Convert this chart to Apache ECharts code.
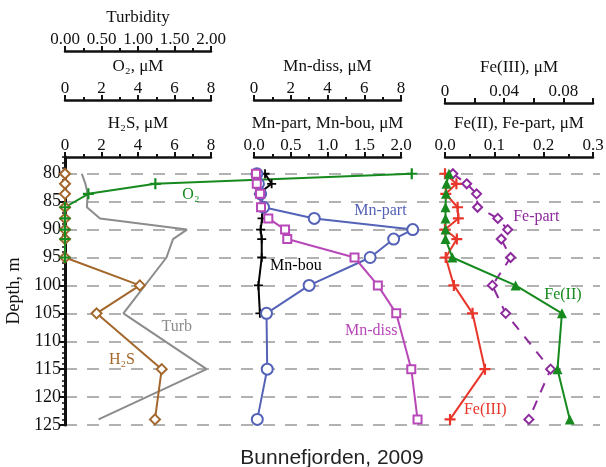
<!DOCTYPE html>
<html>
<head>
<meta charset="utf-8">
<script src="https://cdn.jsdelivr.net/npm/echarts@6/dist/echarts.min.js"></script>
<style>
  html, body { margin: 0; padding: 0; background: #fff; }
  #chart { width: 606px; height: 467px; }
</style>
</head>
<body>
<div id="chart"></div>
<script>
// Sampling depths (m) shared by most profiles
const depth = [80, 81.8, 83.6, 86, 88, 90, 91.7, 95, 100, 105, 115, 124];

// Left panel: O2, H2S (µM) and turbidity
const o2Depth = [80, 81.8, 83.6, 86, 88, 90, 91.7, 95];
const o2 = [19.0, 4.95, 1.28, 0, 0, 0, 0, 0];
const h2s = [0, 0, 0, 0, 0, 0, 0, 0, 4.1, 1.73, 5.3, 4.93];
const turbDepth = [80, 81.8, 83.6, 86, 88, 90, 91.7, 95, 105, 115, 124];
const turbidity = [0.23, 0.28, 0.31, 0.30, 0.48, 1.67, 1.48, 1.39, 0.80, 1.94, 0.46];

// Middle panel: manganese species (µM)
const mnPart = [0.04, 0.06, 0.09, 0.13, 0.82, 2.16, 1.90, 1.58, 0.75, 0.17, 0.18, 0.045];
const mnDiss = [0.11, 0.15, 0.33, 0.38, 0.78, 1.69, 1.81, 5.47, 6.74, 7.74, 8.56, 8.90];
const mnBouDepth = [80, 81.8, 83.6, 86, 88, 90, 91.7, 95, 100, 105];
const mnBou = [0.15, 0.24, 0.06, 0.12, 0.11, 0.09, 0.105, 0.105, 0.06, 0.08];

// Right panel: iron species (µM)
const fe2 = [0.008, 0.003, 0.002, 0.001, 0.001, 0.001, 0.001, 0.015, 0.143, 0.237, 0.228, 0.253];
const fe3 = [0, 0.0077, 0.0005, 0.0085, 0.009, 0, 0.008, 0.0005, 0.006, 0.0186, 0.027, 0.0034];
const fePart = [0.016, 0.044, 0.064, 0.066, 0.107, 0.127, 0.114, 0.133, 0.096, 0.123, 0.214, 0.17];

// Depth axis ticks
const depthTicks = [80, 85, 90, 95, 100, 105, 110, 115, 120, 125];
const depthMinorTicks = [];
for (let d = 77; d <= 125; d++) depthMinorTicks.push(d);

const SERIF = '"Liberation Serif", "DejaVu Serif", "Times New Roman", serif';
const INK = '#111';
const PLUS = 'path://M4,0h2v4h4v2h-4v4h-2v-4h-4v-2h4z';

const DEPTH_MIN = 77, DEPTH_MAX = 125;
const GRID_TOP = 157, GRID_BOTTOM = 42;

// Panel geometry (px). Profiles that run past a panel's scale are drawn on
// wider, hidden axes that keep the same units-per-pixel as the visible scale.
const CHART_W = 606, RIGHT_PAD = 6;
const LEFT_X = 65, LEFT_W = 146;
const MID_X = 254, MID_W = 147;
const RIGHT_X = 445, RIGHT_W = 148;
const WIDE_LEFT_W = CHART_W - RIGHT_PAD - LEFT_X;
const WIDE_MID_W = CHART_W - RIGHT_PAD - MID_X;

function pairs(xs, ds) { return xs.map((v, i) => [v, ds[i]]); }

function topAxis(gridIndex, offset, min, max, interval, name, gap, fmt, minorSplit) {
  return {
    type: 'value', gridIndex, position: 'top', offset, min, max, interval,
    name, nameLocation: 'middle', nameGap: gap,
    nameTextStyle: { fontFamily: SERIF, fontSize: 17, color: INK },
    axisLine: { show: true, onZero: false, lineStyle: { color: INK, width: 2.5 } },
    axisTick: { show: true, inside: false, length: 5, lineStyle: { color: INK, width: 2 } },
    minorTick: { show: !!minorSplit, splitNumber: minorSplit || 2, length: 3,
                 lineStyle: { color: INK, width: 2 } },
    axisLabel: { show: true, margin: 3, fontFamily: SERIF, fontSize: 17, color: INK,
                 formatter: fmt },
    splitLine: { show: false }, minorSplitLine: { show: false }
  };
}

function hiddenAxis(gridIndex, max) {
  return { type: 'value', gridIndex, min: 0, max, show: false, splitLine: { show: false } };
}

function hiddenDepthAxis(gridIndex) {
  return { type: 'value', gridIndex, inverse: true, min: DEPTH_MIN, max: DEPTH_MAX, show: false,
           splitLine: { show: false } };
}

function tag(text, coord, color) {
  return {
    symbol: 'circle', symbolSize: 1, itemStyle: { color: 'rgba(0,0,0,0)' },
    label: { show: true, position: 'inside', fontFamily: SERIF, fontSize: 16, color },
    data: [{ coord, value: text, label: { formatter: text } }]
  };
}

const gridBase = { top: GRID_TOP, bottom: GRID_BOTTOM, outerBoundsMode: 'none', containLabel: false };

const option = {
  animation: false,
  backgroundColor: '#fff',
  title: {
    text: 'Bunnefjorden, 2009', left: 327, top: 443, textAlign: 'center',
    textStyle: { fontFamily: '"Liberation Sans", Arial, sans-serif', fontSize: 21,
                 fontWeight: 'normal', color: '#222' }
  },
  grid: [
    Object.assign({ left: LEFT_X, right: RIGHT_PAD }, gridBase),  // 0: depth axis, grid lines, O2
    Object.assign({ left: LEFT_X, width: LEFT_W }, gridBase),     // 1: O2 / H2S / turbidity scales
    Object.assign({ left: MID_X, width: MID_W }, gridBase),       // 2: manganese scales
    Object.assign({ left: RIGHT_X, width: RIGHT_W }, gridBase),   // 3: iron
    Object.assign({ left: MID_X, right: RIGHT_PAD }, gridBase)    // 4: manganese profiles
  ],
  xAxis: [
    hiddenAxis(0, 8 * WIDE_LEFT_W / LEFT_W),                                  // 0: O2 profile
    topAxis(1, 0, 0, 8, 2, 'H₂S, μM', 24, v => String(v), 2),                 // 1
    topAxis(1, 57, 0, 8, 2, 'O₂, μM', 23, v => String(v), 2),                 // 2
    topAxis(1, 106, 0, 2, 0.5, 'Turbidity', 24, v => v.toFixed(2), 2),       // 3
    topAxis(2, 0, 0, 2, 0.5, 'Mn-part, Mn-bou, μM', 23, v => v.toFixed(1), 2),// 4
    topAxis(2, 57, 0, 8, 2, 'Mn-diss, μM', 24, v => String(v), 2),            // 5
    topAxis(3, 0, 0, 0.3, 0.1, 'Fe(II), Fe-part, μM', 22, v => v.toFixed(1), 2), // 6
    topAxis(3, 54, 0, 0.1, 0.02, 'Fe(III), μM', 27, v => {                   // 7
      const k = Math.round(v / 0.02);
      if (k === 0) return '0';
      return (k % 2 === 0 && k < 5) ? (k * 0.02).toFixed(2) : '';
    }, 0),
    hiddenAxis(4, 2 * WIDE_MID_W / MID_W),                                    // 8: Mn-part / Mn-bou
    hiddenAxis(4, 8 * WIDE_MID_W / MID_W)                                     // 9: Mn-diss
  ],
  yAxis: [
    {
      type: 'value', gridIndex: 0, inverse: true, min: DEPTH_MIN, max: DEPTH_MAX, position: 'left',
      name: 'Depth, m', nameLocation: 'middle', nameGap: 39,
      nameTextStyle: { fontFamily: SERIF, fontSize: 18, color: INK },
      axisLine: { show: true, onZero: false, lineStyle: { color: INK, width: 3 } },
      axisTick: { show: true, inside: false, length: 5, customValues: depthTicks,
                  lineStyle: { color: INK, width: 2 } },
      axisLabel: { show: true, margin: 4, customValues: depthTicks, fontFamily: SERIF,
                   fontSize: 18, color: INK },
      splitLine: { show: true, lineStyle: { color: '#999', width: 1.6, type: [12, 10] } }
    },
    {
      type: 'value', gridIndex: 0, inverse: true, min: DEPTH_MIN, max: DEPTH_MAX, position: 'left',
      axisLine: { show: false },
      axisTick: { show: true, inside: false, length: 3, customValues: depthMinorTicks,
                  lineStyle: { color: INK, width: 1.5 } },
      axisLabel: { show: false },
      splitLine: { show: false }
    },
    hiddenDepthAxis(1),   // 2
    hiddenDepthAxis(2),   // 3
    hiddenDepthAxis(3),   // 4
    hiddenDepthAxis(4)    // 5
  ],
  series: [
    {
      name: 'Turb', type: 'line', xAxisIndex: 3, yAxisIndex: 2,
      data: pairs(turbidity, turbDepth), symbol: 'none',
      lineStyle: { color: '#8c8c8c', width: 2 }, itemStyle: { color: '#8c8c8c' },
      markPoint: tag('Turb', [1.53, 107.4], '#8c8c8c')
    },
    {
      name: 'H2S', type: 'line', xAxisIndex: 1, yAxisIndex: 2,
      data: pairs(h2s, depth), symbol: 'emptyDiamond', symbolSize: 10,
      lineStyle: { color: '#a3672c', width: 2 },
      itemStyle: { color: '#a3672c', borderWidth: 1.6 },
      markPoint: tag('H₂S', [3.12, 113.3], '#a3672c')
    },
    {
      name: 'O2', type: 'line', xAxisIndex: 0, yAxisIndex: 0,
      data: pairs(o2, o2Depth), symbol: PLUS, symbolSize: 11,
      lineStyle: { color: '#168a1e', width: 2 }, itemStyle: { color: '#168a1e' },
      markPoint: tag('O₂', [6.9, 83.8], '#168a1e')
    },
    {
      name: 'Mn-bou', type: 'line', xAxisIndex: 8, yAxisIndex: 5,
      data: pairs(mnBou, mnBouDepth), symbol: PLUS, symbolSize: 9,
      lineStyle: { color: '#000', width: 2 }, itemStyle: { color: '#000' },
      markPoint: tag('Mn-bou', [0.57, 96.4], '#000')
    },
    {
      name: 'Mn-part', type: 'line', xAxisIndex: 8, yAxisIndex: 5,
      data: pairs(mnPart, depth), symbol: 'emptyCircle', symbolSize: 11,
      lineStyle: { color: '#5462b7', width: 2 },
      itemStyle: { color: '#5462b7', borderWidth: 1 },
      markPoint: tag('Mn-part', [1.72, 86.7], '#5462b7')
    },
    {
      name: 'Mn-diss', type: 'line', xAxisIndex: 9, yAxisIndex: 5,
      data: pairs(mnDiss, depth), symbol: 'emptyRect', symbolSize: 8,
      lineStyle: { color: '#b848b8', width: 2 },
      itemStyle: { color: '#b848b8', borderWidth: 2 },
      markPoint: tag('Mn-diss', [6.38, 108.1], '#b848b8')
    },
    {
      name: 'Fe(III)', type: 'line', xAxisIndex: 7, yAxisIndex: 4,
      data: pairs(fe3, depth), symbol: PLUS, symbolSize: 11,
      lineStyle: { color: '#e8362b', width: 2 }, itemStyle: { color: '#e8362b' },
      markPoint: tag('Fe(III)', [0.0272, 122.3], '#e8362b')
    },
    {
      name: 'Fe-part', type: 'line', xAxisIndex: 6, yAxisIndex: 4,
      data: pairs(fePart, depth), symbol: 'emptyDiamond', symbolSize: 9,
      lineStyle: { color: '#8d2a9d', width: 2, type: [10, 9] },
      itemStyle: { color: '#8d2a9d', borderWidth: 1.6 },
      markPoint: tag('Fe-part', [0.185, 87.7], '#8d2a9d')
    },
    {
      name: 'Fe(II)', type: 'line', xAxisIndex: 6, yAxisIndex: 4,
      data: pairs(fe2, depth), symbol: 'triangle', symbolSize: 10,
      lineStyle: { color: '#168a1e', width: 2 }, itemStyle: { color: '#168a1e' },
      markPoint: tag('Fe(II)', [0.239, 101.7], '#168a1e')
    }
  ]
};

const chart = echarts.init(document.getElementById('chart'), null, { renderer: 'canvas' });
chart.setOption(option);
</script>
</body>
</html>
